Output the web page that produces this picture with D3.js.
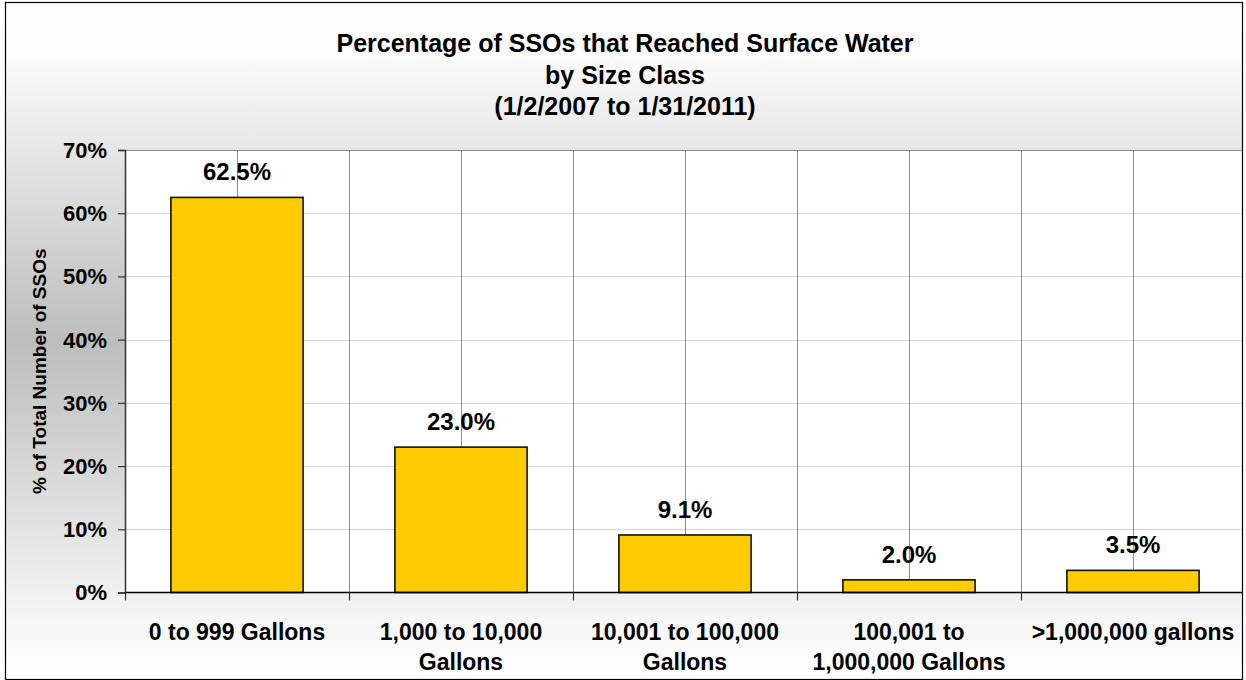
<!DOCTYPE html>
<html>
<head>
<meta charset="utf-8">
<script src="https://cdn.jsdelivr.net/npm/d3@7"></script>
<style>
  html, body { margin: 0; padding: 0; background: #ffffff; }
  svg { display: block; }
  text { font-family: "Liberation Sans", Arial, sans-serif; font-weight: bold; fill: #000; }
</style>
</head>
<body>
<svg id="chart" width="1246" height="680"></svg>
<script>
// Size classes (each label may wrap onto two lines)
const categories = [
  ["0 to 999 Gallons"],
  ["1,000 to 10,000", "Gallons"],
  ["10,001 to 100,000", "Gallons"],
  ["100,001 to", "1,000,000 Gallons"],
  [">1,000,000 gallons"]
];
// Share of all SSOs reaching surface water, percent
const percentages = [62.5, 23.0, 9.1, 2.0, 3.5];
// Value-axis ticks, percent
const yTicks = [0, 10, 20, 30, 40, 50, 60, 70];
const titleLines = [
  "Percentage of SSOs that Reached Surface Water",
  "by Size Class",
  "(1/2/2007 to 1/31/2011)"
];
const yAxisTitle = "% of Total Number of SSOs";

const W = 1246, H = 680;
const plot = { left: 125, right: 1245, top: 150, bottom: 592.5 };

const svg = d3.select("#chart");
const defs = svg.append("defs");

// Vertical grey wash behind the whole chart
const bg = defs.append("linearGradient")
  .attr("id", "bgGrad").attr("x1", 0).attr("y1", 0).attr("x2", 0).attr("y2", 1);
bg.append("stop").attr("offset", "0%").attr("stop-color", "#ffffff");
bg.append("stop").attr("offset", "8%").attr("stop-color", "#fbfbfb");
bg.append("stop").attr("offset", "50%").attr("stop-color", "#bdbdbd");
bg.append("stop").attr("offset", "92%").attr("stop-color", "#f7f7f7");
bg.append("stop").attr("offset", "100%").attr("stop-color", "#ffffff");

defs.append("clipPath").attr("id", "frameClip")
  .append("rect").attr("x", 5).attr("y", 2).attr("width", 1238).attr("height", 677);

const frame = svg.append("g").attr("clip-path", "url(#frameClip)");

frame.append("rect")
  .attr("x", 5).attr("y", 2).attr("width", 1238).attr("height", 677)
  .attr("fill", "url(#bgGrad)");

// Scales
const x = d3.scaleBand()
  .domain(d3.range(categories.length))
  .range([plot.left, plot.right])
  .paddingInner(0.41)
  .paddingOuter(0.205);

const y = d3.scaleLinear()
  .domain([0, 70])
  .range([plot.bottom, plot.top]);

const step = x.step();
const bandStart = i => plot.left + i * step;

// Plot area
frame.append("rect")
  .attr("x", plot.left).attr("y", plot.top)
  .attr("width", plot.right - plot.left).attr("height", plot.bottom - plot.top)
  .attr("fill", "#ffffff");

// Horizontal gridlines
frame.append("g").selectAll("line")
  .data(yTicks.filter(t => t > 0 && t < 70))
  .join("line")
  .attr("x1", plot.left).attr("x2", plot.right)
  .attr("y1", d => Math.round(y(d)) + 0.5).attr("y2", d => Math.round(y(d)) + 0.5)
  .attr("stroke", "#d4d4d4").attr("stroke-width", 1);

// Top edge of plot area
frame.append("line")
  .attr("x1", plot.left).attr("x2", plot.right)
  .attr("y1", y(70) + 0.5).attr("y2", y(70) + 0.5)
  .attr("stroke", "#8c8c8c").attr("stroke-width", 1.2);

// Vertical gridlines: category boundaries and category centres
const vLines = [];
for (let i = 1; i <= categories.length; i++) vLines.push(bandStart(i));
categories.forEach((c, i) => vLines.push(x(i) + x.bandwidth() / 2));
frame.append("g").selectAll("line")
  .data(vLines)
  .join("line")
  .attr("x1", d => Math.round(d) + 0.5).attr("x2", d => Math.round(d) + 0.5)
  .attr("y1", plot.top).attr("y2", plot.bottom)
  .attr("stroke", "#8c8c8c").attr("stroke-width", 1);

// Bars
frame.append("g").selectAll("rect")
  .data(percentages)
  .join("rect")
  .attr("x", (d, i) => x(i))
  .attr("y", d => y(d))
  .attr("width", x.bandwidth())
  .attr("height", d => plot.bottom - y(d))
  .attr("fill", "#ffcc00")
  .attr("stroke", "#111111")
  .attr("stroke-width", 1.6);

// Value labels
frame.append("g").selectAll("text")
  .data(percentages)
  .join("text")
  .attr("x", (d, i) => x(i) + x.bandwidth() / 2)
  .attr("y", d => y(d) - 17)
  .attr("text-anchor", "middle")
  .style("font-size", "24px")
  .text(d => d.toFixed(1) + "%");

// Y axis
const yAxis = d3.axisLeft(y)
  .tickValues(yTicks)
  .tickSize(7)
  .tickPadding(11)
  .tickFormat(d => d + "%");
const yg = frame.append("g")
  .attr("transform", `translate(${plot.left},0)`)
  .call(yAxis);
yg.select(".domain").attr("stroke", "#333333").attr("stroke-width", 1.5);
yg.selectAll(".tick line").attr("stroke", "#333333").attr("stroke-width", 1.2);
yg.selectAll(".tick text")
  .attr("dy", "0.34em")
  .style("font-size", "22px")
  .style("font-family", "'Liberation Sans', Arial, sans-serif")
  .style("font-weight", "bold")
  .attr("fill", "#000");

// X axis line and boundary ticks
frame.append("line")
  .attr("x1", plot.left).attr("x2", plot.right)
  .attr("y1", plot.bottom).attr("y2", plot.bottom)
  .attr("stroke", "#000").attr("stroke-width", 1.5);
frame.append("g").selectAll("line")
  .data(d3.range(categories.length + 1))
  .join("line")
  .attr("x1", i => Math.round(bandStart(i)) + 0.5).attr("x2", i => Math.round(bandStart(i)) + 0.5)
  .attr("y1", plot.bottom).attr("y2", plot.bottom + 8)
  .attr("stroke", "#333333").attr("stroke-width", 1.2);

// Category labels
const catG = frame.append("g").selectAll("text")
  .data(categories)
  .join("text")
  .attr("text-anchor", "middle")
  .style("font-size", "23px");
catG.selectAll("tspan")
  .data((d, i) => d.map((line, k) => ({ line, k, i })))
  .join("tspan")
  .attr("x", d => x(d.i) + x.bandwidth() / 2)
  .attr("y", d => 640 + d.k * 30)
  .text(d => d.line);

// Y axis title
frame.append("text")
  .attr("transform", `translate(46,${(plot.top + plot.bottom) / 2}) rotate(-90)`)
  .attr("text-anchor", "middle")
  .style("font-size", "19px")
  .text(yAxisTitle);

// Chart title
frame.append("g").selectAll("text")
  .data(titleLines)
  .join("text")
  .attr("x", 625)
  .attr("y", (d, i) => [52, 84, 115][i])
  .attr("text-anchor", "middle")
  .style("font-size", "25px")
  .text(d => d);

// Outer frame
svg.append("rect")
  .attr("x", 5.5).attr("y", 2.5).attr("width", 1237).attr("height", 677)
  .attr("fill", "none").attr("stroke", "#000").attr("stroke-width", 1.2);
</script>
</body>
</html>
